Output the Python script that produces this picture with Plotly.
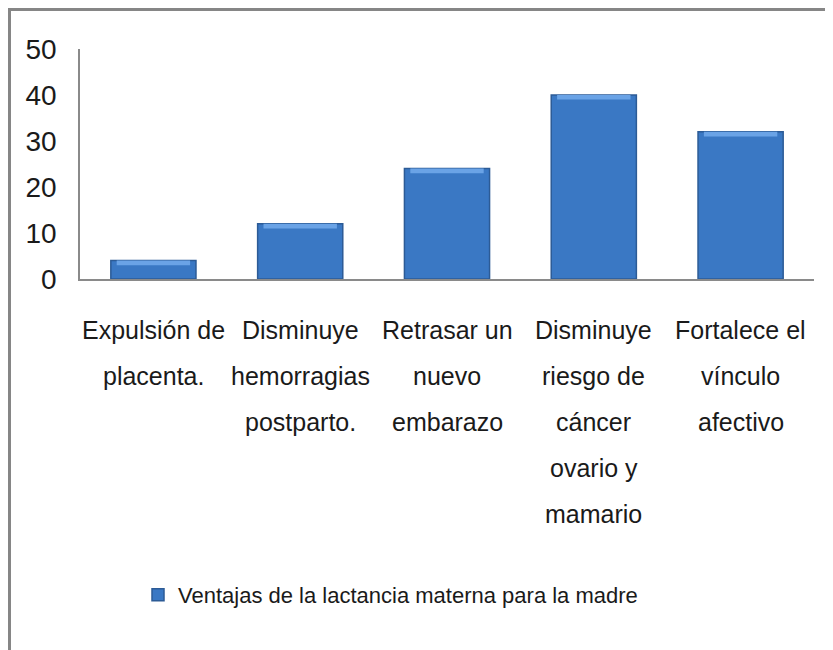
import plotly.graph_objects as go

categories = [
    "Expulsión de placenta.",
    "Disminuye hemorragias postparto.",
    "Retrasar un nuevo embarazo",
    "Disminuye riesgo de cáncer ovario y mamario",
    "Fortalece el vínculo afectivo",
]
label_lines = [
    ["Expulsión de", "placenta."],
    ["Disminuye", "hemorragias", "postparto."],
    ["Retrasar un", "nuevo", "embarazo"],
    ["Disminuye", "riesgo de", "cáncer", "ovario y", "mamario"],
    ["Fortalece el", "vínculo", "afectivo"],
]
values = [4, 12, 24, 40, 32]
series_name = "Ventajas de la lactancia materna para la madre"
y_ticks = [0, 10, 20, 30, 40, 50]

FONT = "Liberation Sans, Arial, sans-serif"
OFF = 8  # default page body margin
W, H = 833 - OFF, 650 - OFF
# plot area in page pixels: x 80..814, y 49..279
ML = 80 - OFF
MT = 49 - OFF
MR = W - (814 - OFF)
MB = H - (279 - OFF)

fig = go.Figure()
fig.add_trace(go.Bar(
    x=categories, y=values, name=series_name,
    marker=dict(color="#3a78c4", line=dict(color="#2c5b96", width=1.5)),
    width=0.58,
))
# top bevel highlight (decorative, from same values)
fig.add_trace(go.Bar(
    x=categories, y=[1.0] * len(values), base=[v - 1.0 for v in values],
    marker=dict(color="#6aa3e6", line=dict(width=0)),
    width=0.50, showlegend=False, hoverinfo="skip",
))

annotations = []
for cat, lines in zip(categories, label_lines):
    for i, ln in enumerate(lines):
        annotations.append(dict(
            x=cat, xref="x", y=0, yref="paper", yanchor="middle",
            yshift=-(51 + 46 * i), text=ln, showarrow=False,
            font=dict(family=FONT, size=25, color="#1a1a1a"),
        ))

pw = W - ML - MR
ph = H - MT - MB
def px_x(px):
    return (px - OFF - ML) / pw
def px_y(py):
    return (H - MB - (py - OFF)) / ph

shapes = [
    dict(type="line", xref="paper", yref="paper", x0=px_x(8), x1=px_x(840),
         y0=px_y(9.5), y1=px_y(9.5), line=dict(color="#868686", width=3)),
    dict(type="line", xref="paper", yref="paper", x0=px_x(9.5), x1=px_x(9.5),
         y0=px_y(8), y1=px_y(660), line=dict(color="#868686", width=3)),
]

fig.update_layout(
    width=W, height=H,
    margin=dict(l=ML, r=MR, t=MT, b=MB, autoexpand=False),
    paper_bgcolor="white", plot_bgcolor="white",
    barmode="overlay",
    showlegend=True,
    legend=dict(
        orientation="h", x=px_x(138), xanchor="left", y=px_y(595), yanchor="middle",
        font=dict(family=FONT, size=22, color="#1a1a1a"),
        bgcolor="rgba(0,0,0,0)",
    ),
    annotations=annotations,
    shapes=shapes,
    xaxis=dict(
        showticklabels=False, showgrid=False, zeroline=False,
        showline=True, linecolor="#8a8a8a", linewidth=1.5, ticks="",
        range=[-0.5, 4.5],
    ),
    yaxis=dict(
        range=[0, 50], tickvals=y_ticks, showgrid=False, zeroline=False,
        showline=True, linecolor="#8a8a8a", linewidth=1.5, ticks="",
        ticklabelstandoff=16,
        tickfont=dict(family=FONT, size=28, color="#1a1a1a"),
    ),
)

fig.write_html("out.html")
